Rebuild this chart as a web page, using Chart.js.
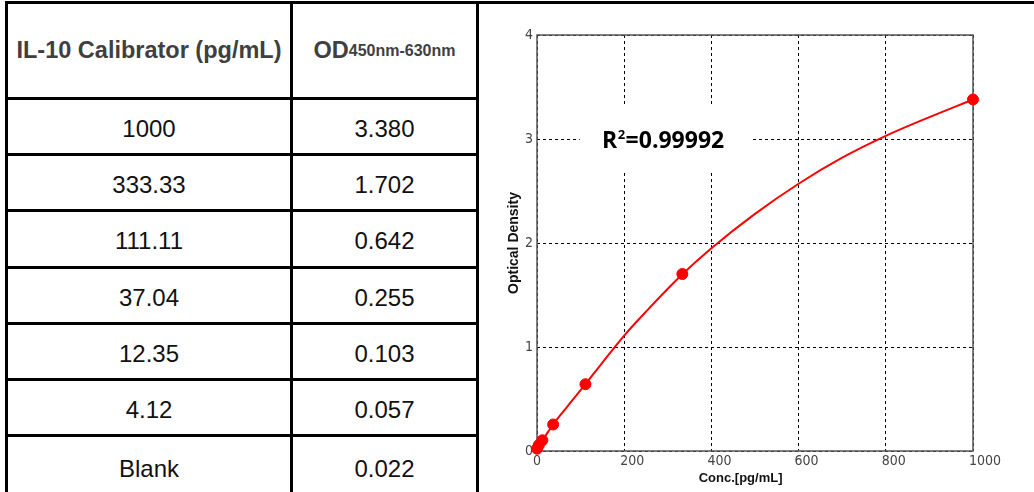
<!DOCTYPE html>
<html><head><meta charset="utf-8">
<script src="https://cdn.jsdelivr.net/npm/chart.js@4"></script>
<style>
html,body{margin:0;padding:0;background:#fff;width:1034px;height:492px;overflow:hidden;}
#wrap{position:relative;width:1034px;height:492px;}
.ln{position:absolute;background:#000;}
.cell{position:absolute;display:flex;align-items:center;justify-content:center;font-family:'Liberation Sans',Arial,sans-serif;white-space:nowrap;}
.hd{font-weight:bold;color:#3f3f3f;font-size:23.5px;}
.hd sub{font-size:16px;vertical-align:-5px;}
.bd{font-size:24px;color:#111;}
#chartBox{position:absolute;left:480px;top:4px;width:554px;height:488px;}
</style></head><body>
<div id="wrap"><div id="chartBox"><canvas id="c"></canvas></div></div>
<script>
// ---- data ----
const calibratorLabels = ['1000', '333.33', '111.11', '37.04', '12.35', '4.12', 'Blank'];
const concentrations = [1000, 333.33, 111.11, 37.04, 12.35, 4.12, 0];
const odValues = [3.380, 1.702, 0.642, 0.255, 0.103, 0.057, 0.022];
const odLabels = ['3.380', '1.702', '0.642', '0.255', '0.103', '0.057', '0.022'];
// fitted standard curve
const curveX = [0, 4.12, 12.35, 37.04, 70, 111.11, 150, 200, 250, 300, 333.33, 400, 500, 600, 700, 800, 900, 1000];
const curveY = [0.022, 0.057, 0.103, 0.255, 0.43, 0.642, 0.85, 1.11, 1.34, 1.56, 1.70, 1.95, 2.28, 2.57, 2.82, 3.03, 3.21, 3.38];
const xTicks = [0, 200, 400, 600, 800, 1000];
const yTicks = [0, 1, 2, 3, 4];
const headerCol1 = 'IL-10 Calibrator (pg/mL)';
const headerCol2Main = 'OD';
const headerCol2Sub = '450nm-630nm';
const r2Value = '0.99992';
const xTitle = 'Conc.[pg/mL]';
const yTitle = 'Optical Density';

// ---- table ----
const wrap = document.getElementById('wrap');
function addLine(x, y, w, h) {
  const d = document.createElement('div'); d.className = 'ln';
  d.style.left = x + 'px'; d.style.top = y + 'px'; d.style.width = w + 'px'; d.style.height = h + 'px';
  wrap.appendChild(d);
}
function addCell(x, y, w, h, html, cls, dy) {
  const d = document.createElement('div'); d.className = 'cell ' + cls;
  d.style.left = x + 'px'; d.style.top = (y + (dy || 0)) + 'px'; d.style.width = w + 'px'; d.style.height = h + 'px';
  d.innerHTML = html; wrap.appendChild(d);
}
const col = [5, 290, 476];
addLine(5, 1, 1029, 3);
col.forEach(x => addLine(x, 1, 3, 491));
const rowTop = [];
for (let i = 0; i < 7; i++) rowTop.push(Math.round(97 + i * 56.17));
rowTop.forEach(y => addLine(5, y, 474, 3));
addCell(8, 4, 282, 93, headerCol1, 'hd', 0);
addCell(293, 4, 183, 93, headerCol2Main + '<sub>' + headerCol2Sub + '</sub>', 'hd', 0);
calibratorLabels.forEach((lab, i) => {
  const top = rowTop[i] + 3;
  const bottom = i < 6 ? rowTop[i + 1] : 493;
  const dy = i < 6 ? 2 : 4;
  addCell(8, top, 282, bottom - top, lab, 'bd', dy);
  addCell(293, top, 183, bottom - top, odLabels[i], 'bd', dy);
});

// ---- chart ----
const pts = concentrations.map((x, i) => ({ x: x, y: odValues[i] })).sort((a, b) => a.x - b.x);
const curvePts = curveX.map((x, i) => ({ x: x, y: curveY[i] }));
const tickFont = { family: "'Liberation Sans Narrow','DejaVu Sans Condensed','Liberation Sans',sans-serif", size: 14 };

const decor = {
  id: 'decor',
  beforeDatasetsDraw(chart) {
    const { ctx, chartArea: a, scales } = chart;
    const x = scales.x, y = scales.y;
    ctx.save();
    const bx0 = x.getPixelForValue(98), bx1 = x.getPixelForValue(493);
    const by0 = y.getPixelForValue(3.31), by1 = y.getPixelForValue(2.70);
    ctx.fillStyle = '#fff';
    ctx.fillRect(bx0, by0, bx1 - bx0, by1 - by0);
    ctx.strokeStyle = '#555';
    ctx.lineWidth = 1.5;
    ctx.strokeRect(a.left, a.top, a.right - a.left, a.bottom - a.top);
    // R^2 label
    let tx = x.getPixelForValue(149);
    const ty = y.getPixelForValue(2.913);
    ctx.fillStyle = '#000';
    ctx.textBaseline = 'alphabetic';
    ctx.font = "bold 23px 'Open Sans', sans-serif";
    ctx.fillText('R', tx, ty);
    tx += ctx.measureText('R').width + 0.5;
    ctx.font = "bold 13px 'Open Sans', sans-serif";
    ctx.fillText('2', tx, ty - 9);
    tx += ctx.measureText('2').width + 0.5;
    ctx.font = "bold 23px 'Open Sans', sans-serif";
    ctx.fillText('=' + r2Value, tx, ty);
    ctx.restore();
  },
  afterDraw(chart) {
    const { ctx, scales } = chart;
    const x = scales.x;
    ctx.save();
    ctx.fillStyle = '#111';
    ctx.font = "bold 13px 'Liberation Sans', Arial, sans-serif";
    ctx.textAlign = 'center';
    ctx.textBaseline = 'middle';
    ctx.fillText(xTitle, x.getPixelForValue(467), x.bottom - 14);
    ctx.restore();
  }
};

new Chart(document.getElementById('c'), {
  type: 'line',
  data: {
    datasets: [{
      data: curvePts,
      borderColor: '#ff0000',
      borderWidth: 2,
      pointRadius: 0,
      cubicInterpolationMode: 'monotone',
      fill: false,
      clip: false
    }, {
      data: pts,
      showLine: false,
      borderColor: '#ff0000',
      backgroundColor: '#ff0000',
      pointBackgroundColor: '#ff0000',
      pointBorderColor: '#ff0000',
      pointRadius: 5.5,
      pointHoverRadius: 5.5,
      fill: false,
      clip: false
    }]
  },
  options: {
    responsive: true,
    maintainAspectRatio: false,
    animation: false,
    events: [],
    layout: { padding: { left: 0, top: 31, right: 61, bottom: 0 } },
    plugins: { legend: { display: false }, tooltip: { enabled: false } },
    scales: {
      x: {
        type: 'linear', min: 0, max: 1000,
        afterBuildTicks: s => { s.ticks = xTicks.map(v => ({ value: v })); },
        afterFit: s => { s.height = 41; },
        ticks: { font: tickFont, color: '#444', padding: 2, maxRotation: 0, autoSkip: false, align: 'start', labelOffset: -4, callback: v => String(v) },
        grid: { color: '#000', lineWidth: 1, drawTicks: false },
        border: { display: false, dash: [3, 3] }
      },
      y: {
        type: 'linear', min: 0, max: 4,
        afterBuildTicks: s => { s.ticks = yTicks.map(v => ({ value: v })); },
        afterFit: s => { s.width = 57; },
        ticks: { font: tickFont, color: '#444', padding: 4, autoSkip: false, callback: v => String(v) },
        grid: { color: '#000', lineWidth: 1, drawTicks: false },
        border: { display: false, dash: [3, 3] },
        title: { display: true, text: yTitle, color: '#111', font: { family: "'Liberation Sans', Arial, sans-serif", size: 14, weight: 'bold' }, padding: { top: 25.6, bottom: 0 } }
      }
    }
  },
  plugins: [decor]
});
</script>
</body></html>
